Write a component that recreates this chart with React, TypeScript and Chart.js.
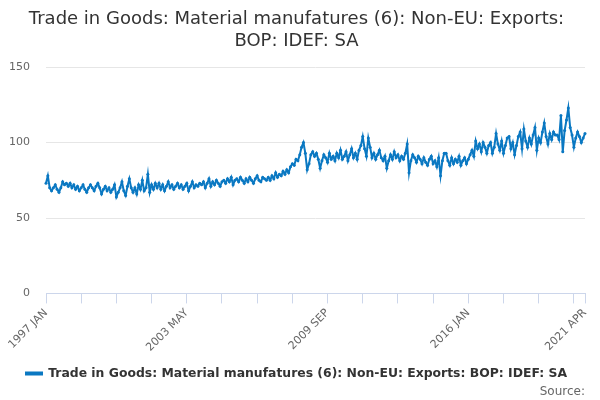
import { useEffect, useRef } from 'react'
import { Chart, registerables } from 'chart.js'

Chart.register(...registerables)

const MONTHS = ['JAN', 'FEB', 'MAR', 'APR', 'MAY', 'JUN', 'JUL', 'AUG', 'SEP', 'OCT', 'NOV', 'DEC']
const START_YEAR = 1997

const SERIES_NAME = 'Trade in Goods: Material manufatures (6): Non-EU: Exports: BOP: IDEF: SA'
const TITLE_LINES = ['Trade in Goods: Material manufatures (6): Non-EU: Exports:', 'BOP: IDEF: SA']
const SHOWN_LABELS = ['1997 JAN', '2003 MAY', '2009 SEP', '2016 JAN', '2021 APR']
const Y_TICKS = [0, 50, 100, 150]

// monthly values, 1997 JAN .. 2021 APR
const values: number[] = [
  // 1997
  73, 78, 70, 68, 70, 72, 69, 67, 70, 74, 72, 73,
  // 1998
  71, 73, 70, 72, 69, 71, 68, 70, 72, 69, 67, 70,
  // 1999
  72, 70, 68, 71, 73, 70, 66, 69, 71, 68, 70, 67,
  // 2000
  69, 72, 64, 67, 70, 74, 68, 65, 71, 76, 70, 67,
  // 2001
  70, 66, 72, 69, 75, 68, 70, 79, 67, 72, 69, 73,
  // 2002
  70, 73, 69, 72, 68, 71, 74, 70, 72, 69, 71, 73,
  // 2003
  70, 72, 69, 71, 73, 68, 71, 74, 70, 72, 71, 73,
  // 2004
  72, 74, 70, 73, 76, 71, 74, 72, 75, 73, 71, 74,
  // 2005
  75, 73, 76, 74, 77, 72, 75, 76, 74, 77, 75, 73,
  // 2006
  76, 74, 77, 75, 73, 76, 78, 75, 74, 77, 76, 75,
  // 2007
  77, 75, 78, 76, 80, 77, 79, 78, 81, 79, 82, 80,
  // 2008
  84, 86, 85, 89, 88, 92, 97, 100, 93, 82, 86, 92,
  // 2009
  94, 91, 93, 89, 83, 88, 92, 90, 87, 93, 89, 91,
  // 2010
  88, 93, 90, 95, 89, 91, 94, 88, 92, 96, 90, 93,
  // 2011
  89, 95, 98, 104, 96, 91, 103, 97, 90, 93, 89, 92,
  // 2012
  95, 90, 88, 91, 83, 88, 92, 89, 94, 90, 92, 88,
  // 2013
  91, 89, 93, 99, 80, 88, 92, 90, 87, 91, 89, 86,
  // 2014
  90, 87, 85, 89, 91, 86, 88, 84, 90, 78, 88, 93,
  // 2015
  93, 88, 85, 90, 86, 89, 87, 91, 85, 88, 90, 86,
  // 2016
  89, 92, 95, 91, 101, 96, 99, 94, 100, 97, 93, 98,
  // 2017
  100, 93, 97, 106, 99, 95, 101, 93, 98, 103, 104, 96,
  // 2018
  100, 92, 98, 104, 107, 96, 109, 101, 97, 103, 99, 105,
  // 2019
  110, 95, 103, 100, 107, 113, 104, 99, 106, 102, 107, 105,
  // 2020
  105, 102, 118, 94, 108, 115, 123, 110, 105, 97, 103, 107,
  // 2021
  104, 100, 103, 106,
]

const labels = values.map((_, i) => `${START_YEAR + Math.floor(i / 12)} ${MONTHS[i % 12]}`)

const FONT = "'DejaVu Sans', sans-serif"

export default function App() {
  const canvasRef = useRef<HTMLCanvasElement>(null)

  useEffect(() => {
    if (!canvasRef.current) return
    const last = labels.length - 1

    const chart = new Chart(canvasRef.current, {
      type: 'line',
      data: {
        labels,
        datasets: [
          {
            label: SERIES_NAME,
            data: values,
            borderColor: '#0a78c2',
            backgroundColor: '#0a78c2',
            borderWidth: 2,
            pointRadius: 1.5,
            pointBorderWidth: 0,
            tension: 0,
          },
        ],
      },
      options: {
        responsive: true,
        maintainAspectRatio: false,
        animation: false,
        layout: { padding: { left: 8, right: 15, top: 8, bottom: 1 } },
        plugins: {
          title: {
            display: true,
            text: TITLE_LINES,
            color: '#333333',
            font: { family: FONT, size: 18, weight: 'normal' },
            padding: { top: 1, bottom: 15 },
          },
          subtitle: {
            display: true,
            text: 'Source:',
            position: 'bottom',
            align: 'end',
            color: '#666666',
            font: { family: FONT, size: 12 },
            padding: { top: -5, bottom: 0 },
          },
          legend: {
            position: 'bottom',
            labels: {
              color: '#333333',
              font: { family: FONT, size: 12.4, weight: 'bold' },
              boxWidth: 16,
              boxHeight: 2,
              padding: 2,
            },
          },
          tooltip: { enabled: false },
        },
        scales: {
          x: {
            border: { color: '#ccd6eb' },
            grid: {
              drawOnChartArea: false,
              tickLength: 10,
              color: (ctx) => (ctx.index % 19 === 0 || ctx.index === last ? '#ccd6eb' : 'rgba(0,0,0,0)'),
            },
            ticks: {
              autoSkip: false,
              minRotation: 45,
              maxRotation: 45,
              color: '#666666',
              font: { family: FONT, size: 11 },
              callback: (_v, i) => (SHOWN_LABELS.includes(labels[i]) ? labels[i] : ''),
            },
            afterFit: (axis) => {
              axis.paddingLeft = 0
              axis.paddingRight = 0
              axis.height += 8
            },
          },
          y: {
            min: Y_TICKS[0],
            max: Y_TICKS[Y_TICKS.length - 1],
            border: { display: false },
            grid: { color: '#e6e6e6', drawTicks: false },
            afterBuildTicks: (axis) => {
              axis.ticks = Y_TICKS.map((v) => ({ value: v }))
            },
            afterFit: (axis) => {
              axis.width = 38
            },
            ticks: {
              color: '#666666',
              padding: 16,
              font: { family: FONT, size: 11 },
            },
          },
        },
      },
    })

    return () => chart.destroy()
  }, [])

  return (
    <div style={{ position: 'absolute', left: 0, top: 0, width: 600, height: 400 }}>
      <canvas ref={canvasRef} />
    </div>
  )
}
